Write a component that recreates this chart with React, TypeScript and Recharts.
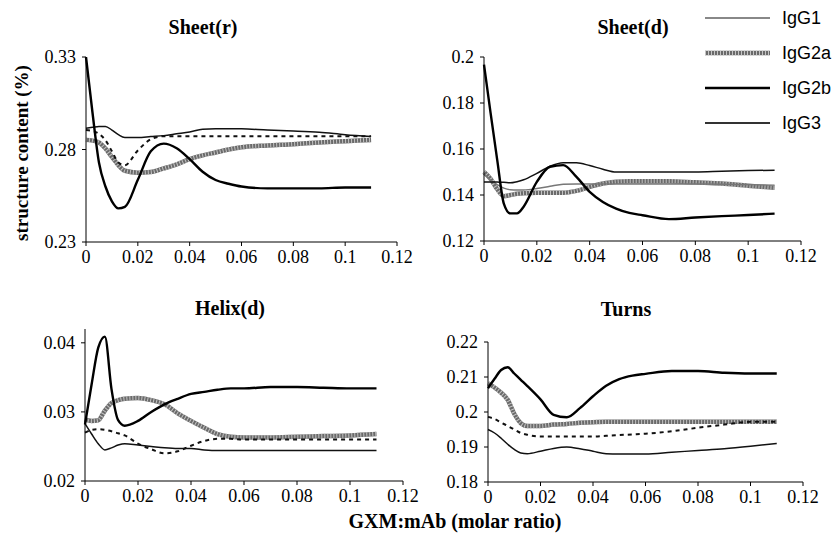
import { LineChart, Line, XAxis, YAxis } from 'recharts';

// molar ratio sample points shared by every panel
const xs = [0, 0.0025, 0.005, 0.0075, 0.01, 0.0125, 0.015, 0.02, 0.025, 0.03, 0.035, 0.04, 0.045, 0.05, 0.055, 0.06, 0.07, 0.08, 0.09, 0.1, 0.11];
const xTicks = [0, 0.02, 0.04, 0.06, 0.08, 0.1, 0.12];

// Sheet(r)
const sheetR_igg1 = [0.2905, 0.29, 0.2885, 0.285, 0.279, 0.273, 0.2715, 0.2795, 0.2855, 0.2872, 0.2872, 0.2872, 0.2872, 0.2872, 0.2872, 0.2872, 0.2872, 0.2872, 0.2872, 0.2872, 0.2872];
const sheetR_igg2a = [0.2852, 0.2848, 0.2838, 0.2805, 0.276, 0.2715, 0.2685, 0.2675, 0.2678, 0.2698, 0.272, 0.2748, 0.2768, 0.2784, 0.28, 0.2812, 0.2822, 0.2829, 0.2838, 0.2845, 0.2852];
const sheetR_igg2b = [0.33, 0.3, 0.273, 0.26, 0.252, 0.2482, 0.249, 0.2636, 0.279, 0.2832, 0.2807, 0.2748, 0.268, 0.2635, 0.2615, 0.26, 0.259, 0.259, 0.259, 0.2595, 0.2595];
const sheetR_igg3 = [0.2915, 0.292, 0.2925, 0.2925, 0.2905, 0.288, 0.2865, 0.2865, 0.287, 0.2875, 0.2885, 0.2895, 0.291, 0.2912, 0.2912, 0.2912, 0.2905, 0.29, 0.2893, 0.288, 0.287];

// Sheet(d)
const sheetD_igg1 = [0.149, 0.1465, 0.1445, 0.143, 0.1423, 0.1422, 0.1422, 0.1428, 0.1438, 0.1447, 0.1448, 0.1448, 0.1448, 0.1448, 0.1448, 0.1448, 0.1448, 0.1448, 0.1447, 0.1445, 0.1443];
const sheetD_igg2a = [0.15, 0.147, 0.1425, 0.1395, 0.14, 0.1405, 0.1408, 0.141, 0.141, 0.141, 0.1418, 0.1435, 0.145, 0.1458, 0.146, 0.146, 0.146, 0.1455, 0.145, 0.144, 0.1432];
const sheetD_igg2b = [0.1967, 0.1756, 0.1553, 0.1363, 0.132, 0.132, 0.1349, 0.1457, 0.1523, 0.153, 0.1479, 0.1414, 0.137, 0.1341, 0.1322, 0.1312, 0.1295, 0.1302, 0.1308, 0.1313, 0.1319];
const sheetD_igg3 = [0.1457, 0.1457, 0.1456, 0.1455, 0.1453, 0.1458, 0.1466, 0.1494, 0.1525, 0.154, 0.154, 0.1528, 0.1512, 0.15, 0.15, 0.15, 0.15, 0.15, 0.1503, 0.1506, 0.1508];

// Helix(d)
const helixD_igg1 = [0.027, 0.0274, 0.0275, 0.0274, 0.0272, 0.0269, 0.0266, 0.0254, 0.0246, 0.024, 0.0243, 0.0251, 0.0258, 0.0261, 0.0261, 0.026, 0.026, 0.026, 0.026, 0.026, 0.026];
const helixD_igg2a = [0.0289, 0.0287, 0.0288, 0.0302, 0.0313, 0.0317, 0.0319, 0.032, 0.0317, 0.0311, 0.0298, 0.0287, 0.0277, 0.0268, 0.0264, 0.0263, 0.0263, 0.0264, 0.0265, 0.0266, 0.0268];
const helixD_igg2b = [0.0282, 0.034, 0.0393, 0.0409, 0.0333, 0.0288, 0.028, 0.0287, 0.03, 0.0311, 0.0319, 0.0326, 0.0329, 0.0332, 0.0334, 0.0334, 0.0336, 0.0336, 0.0335, 0.0334, 0.0334];
const helixD_igg3 = [0.0283, 0.0268, 0.0254, 0.0245, 0.0248, 0.0252, 0.0254, 0.0252, 0.025, 0.0248, 0.0247, 0.0247, 0.0245, 0.0244, 0.0244, 0.0244, 0.0244, 0.0244, 0.0244, 0.0244, 0.0244];

// Turns
const turns_igg1 = [0.1986, 0.198, 0.197, 0.196, 0.195, 0.194, 0.1935, 0.193, 0.193, 0.193, 0.193, 0.193, 0.1932, 0.1934, 0.1936, 0.1938, 0.1945, 0.1955, 0.1964, 0.1972, 0.1972];
const turns_igg2a = [0.2082, 0.207, 0.2055, 0.2035, 0.1995, 0.1968, 0.196, 0.196, 0.1964, 0.1966, 0.1969, 0.1971, 0.1972, 0.1972, 0.1972, 0.1972, 0.1972, 0.1972, 0.1972, 0.1972, 0.1972];
const turns_igg2b = [0.2068, 0.2095, 0.212, 0.2128, 0.211, 0.2092, 0.2074, 0.2036, 0.1992, 0.1985, 0.2011, 0.2045, 0.2075, 0.2094, 0.2104, 0.2109, 0.2117, 0.2117, 0.2112, 0.211, 0.211];
const turns_igg3 = [0.195, 0.194, 0.1925, 0.1908, 0.1893, 0.1883, 0.1881, 0.1888, 0.1896, 0.19, 0.1895, 0.1888, 0.1881, 0.188, 0.188, 0.188, 0.1885, 0.189, 0.1895, 0.1902, 0.191];

const legendNames = ['IgG1', 'IgG2a', 'IgG2b', 'IgG3'];

const serif = '"Liberation Serif", "Times New Roman", serif';
const YW = 50;
const XH = 36;
const TOP = 14;
const RIGHT = 26;

type PanelProps = {
  title: string;
  titleX: number;
  titleY: number;
  box: { l: number; t: number; r: number; b: number };
  domain: [number, number];
  ticks: number[];
  igg1: number[];
  igg2a: number[];
  igg2b: number[];
  igg3: number[];
  dashed: boolean;
};

function Panel(p: PanelProps) {
  const data = xs.map((x, i) => ({
    x,
    igg1: p.igg1[i],
    igg2a: p.igg2a[i],
    igg2b: p.igg2b[i],
    igg3: p.igg3[i],
  }));
  const w = p.box.r - p.box.l + YW + RIGHT;
  const h = p.box.b - p.box.t + TOP + XH;
  const tick = { fontSize: 18, fill: '#000', fontFamily: serif };
  return (
    <>
      <div
        style={{
          position: 'absolute',
          left: p.titleX,
          top: p.titleY,
          transform: 'translate(-50%, -50%)',
          fontFamily: serif,
          fontWeight: 'bold',
          fontSize: 20,
          whiteSpace: 'nowrap',
        }}
      >
        {p.title}
      </div>
      <div style={{ position: 'absolute', left: p.box.l - YW, top: p.box.t - TOP }}>
        <LineChart width={w} height={h} data={data} margin={{ top: TOP, right: RIGHT, left: 0, bottom: 0 }}>
          <XAxis
            dataKey="x"
            type="number"
            domain={[0, 0.12]}
            ticks={xTicks}
            tick={tick}
            tickSize={4}
            tickMargin={4}
            height={XH}
            axisLine={{ stroke: '#000' }}
            tickLine={{ stroke: '#000' }}
            interval={0}
          />
          <YAxis
            type="number"
            domain={p.domain}
            ticks={p.ticks}
            tick={tick}
            tickSize={4}
            tickMargin={6}
            width={YW}
            axisLine={{ stroke: '#000' }}
            tickLine={{ stroke: '#000' }}
            interval={0}
            allowDataOverflow
          />
          <Line type="monotone" dataKey="igg2a" stroke="#6a6a6a" strokeWidth={4.5} dot={false} isAnimationActive={false} />
          <Line type="monotone" dataKey="igg2a" stroke="#c4c4c4" strokeWidth={4.5} strokeDasharray="1 2" dot={false} isAnimationActive={false} />
          {p.dashed ? (
            <Line type="monotone" dataKey="igg1" stroke="#111" strokeWidth={2} strokeDasharray="4 4" dot={false} isAnimationActive={false} />
          ) : (
            <Line type="monotone" dataKey="igg1" stroke="#777" strokeWidth={1.4} dot={false} isAnimationActive={false} />
          )}
          <Line type="monotone" dataKey="igg3" stroke="#111" strokeWidth={1.5} dot={false} isAnimationActive={false} />
          <Line type="monotone" dataKey="igg2b" stroke="#000" strokeWidth={2.4} dot={false} isAnimationActive={false} />
        </LineChart>
      </div>
    </>
  );
}

function LegendBox() {
  const ys = [18, 53, 88, 123];
  return (
    <svg width={140} height={140} style={{ position: 'absolute', left: 700, top: 0 }}>
      <line x1={5} x2={70} y1={ys[0]} y2={ys[0]} stroke="#888" strokeWidth={1.8} />
      <line x1={5} x2={70} y1={ys[1]} y2={ys[1]} stroke="#6a6a6a" strokeWidth={4.5} />
      <line x1={5} x2={70} y1={ys[1]} y2={ys[1]} stroke="#c4c4c4" strokeWidth={4.5} strokeDasharray="1 2" />
      <line x1={5} x2={70} y1={ys[2]} y2={ys[2]} stroke="#000" strokeWidth={2.6} />
      <line x1={5} x2={70} y1={ys[3]} y2={ys[3]} stroke="#333" strokeWidth={1.8} />
      {legendNames.map((n, i) => (
        <text key={n} x={82} y={ys[i]} dominantBaseline="central" fontFamily='"Liberation Sans", Arial, sans-serif' fontSize={18} fill="#000">
          {n}
        </text>
      ))}
    </svg>
  );
}

export default function App() {
  return (
    <div style={{ position: 'absolute', left: 0, top: 0, width: 833, height: 542, background: '#fff', overflow: 'hidden' }}>
      <Panel
        title="Sheet(r)"
        titleX={203}
        titleY={27}
        box={{ l: 86, t: 57, r: 397, b: 242 }}
        domain={[0.23, 0.33]}
        ticks={[0.23, 0.28, 0.33]}
        igg1={sheetR_igg1}
        igg2a={sheetR_igg2a}
        igg2b={sheetR_igg2b}
        igg3={sheetR_igg3}
        dashed
      />
      <Panel
        title="Sheet(d)"
        titleX={633}
        titleY={27}
        box={{ l: 484, t: 57, r: 801, b: 241 }}
        domain={[0.12, 0.2]}
        ticks={[0.12, 0.14, 0.16, 0.18, 0.2]}
        igg1={sheetD_igg1}
        igg2a={sheetD_igg2a}
        igg2b={sheetD_igg2b}
        igg3={sheetD_igg3}
        dashed={false}
      />
      <Panel
        title="Helix(d)"
        titleX={230}
        titleY={308}
        box={{ l: 85, t: 329, r: 403, b: 481 }}
        domain={[0.02, 0.042]}
        ticks={[0.02, 0.03, 0.04]}
        igg1={helixD_igg1}
        igg2a={helixD_igg2a}
        igg2b={helixD_igg2b}
        igg3={helixD_igg3}
        dashed
      />
      <Panel
        title="Turns"
        titleX={626}
        titleY={309}
        box={{ l: 488, t: 342, r: 803, b: 482 }}
        domain={[0.18, 0.22]}
        ticks={[0.18, 0.19, 0.2, 0.21, 0.22]}
        igg1={turns_igg1}
        igg2a={turns_igg2a}
        igg2b={turns_igg2b}
        igg3={turns_igg3}
        dashed
      />
      <LegendBox />
      <div
        style={{
          position: 'absolute',
          left: 455,
          top: 521,
          transform: 'translate(-50%, -50%)',
          fontFamily: serif,
          fontWeight: 'bold',
          fontSize: 20,
          whiteSpace: 'nowrap',
        }}
      >
        GXM:mAb (molar ratio)
      </div>
      <div
        style={{
          position: 'absolute',
          left: 22,
          top: 153,
          transform: 'translate(-50%, -50%) rotate(-90deg)',
          fontFamily: serif,
          fontWeight: 'bold',
          fontSize: 19,
          whiteSpace: 'nowrap',
        }}
      >
        structure content (%)
      </div>
    </div>
  );
}
